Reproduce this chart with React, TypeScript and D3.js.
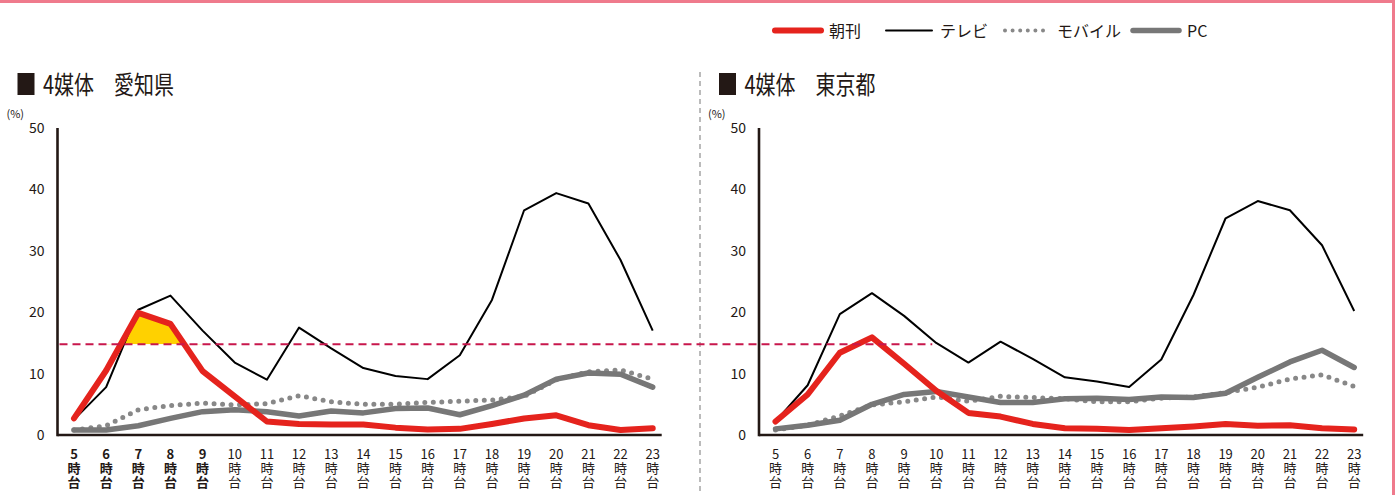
import React from "react";
import * as d3 from "d3";

const hours = [5, 6, 7, 8, 9, 10, 11, 12, 13, 14, 15, 16, 17, 18, 19, 20, 21, 22, 23];
const yTicks = [0, 10, 20, 30, 40, 50];
const threshold = 14.8;

// 愛知県
const aichiChokan = [2.7, 10.5, 19.9, 18.1, 10.4, 6.3, 2.2, 1.8, 1.7, 1.7, 1.2, 0.9, 1.0, 1.8, 2.7, 3.2, 1.6, 0.8, 1.1];
const aichiTV = [2.5, 7.8, 20.4, 22.7, 17.0, 11.8, 9.0, 17.5, 14.1, 10.9, 9.6, 9.1, 13.0, 22.0, 36.6, 39.4, 37.7, 28.5, 17.0];
const aichiMobile = [0.8, 1.5, 4.1, 4.8, 5.2, 4.9, 5.1, 6.4, 5.4, 5.0, 5.0, 5.3, 5.5, 5.7, 6.3, 9.0, 10.3, 10.6, 9.1];
const aichiPC = [0.8, 0.8, 1.5, 2.7, 3.8, 4.1, 3.8, 3.1, 3.9, 3.6, 4.3, 4.4, 3.3, 4.8, 6.5, 9.1, 10.1, 9.9, 7.8];

// 東京都
const tokyoChokan = [2.2, 6.6, 13.4, 15.9, 11.6, 7.2, 3.6, 3.0, 1.8, 1.1, 1.0, 0.8, 1.1, 1.4, 1.8, 1.5, 1.6, 1.1, 0.9];
const tokyoTV = [2.2, 8.1, 19.7, 23.1, 19.4, 15.0, 11.8, 15.2, 12.4, 9.4, 8.7, 7.8, 12.3, 22.8, 35.3, 38.1, 36.6, 30.9, 20.2];
const tokyoMobile = [0.8, 1.6, 3.1, 4.9, 5.4, 6.2, 5.5, 6.3, 6.1, 5.9, 5.4, 5.4, 6.0, 6.2, 6.9, 7.8, 9.1, 9.8, 7.9];
const tokyoPC = [1.0, 1.6, 2.4, 5.0, 6.6, 7.1, 6.2, 5.3, 5.3, 5.9, 6.0, 5.8, 6.2, 6.1, 6.8, 9.4, 11.9, 13.8, 11.0];

const legendItems = ["朝刊", "テレビ", "モバイル", "PC"];

const FONT = "'Noto Sans CJK JP', 'Noto Sans', sans-serif";
const RED = "#e5231d";
const BLACK = "#000";
const GRAY = "#777";
const DOT = "#888";
const AXIS = "#231815";

const styles: Record<string, any> = {
  朝刊: { stroke: RED, width: 6, dash: undefined, cap: "round" },
  テレビ: { stroke: BLACK, width: 2, dash: undefined, cap: "butt" },
  モバイル: { stroke: DOT, width: 5, dash: "0 8.5", cap: "round" },
  PC: { stroke: GRAY, width: 5.5, dash: undefined, cap: "round" },
};

const yScale = d3.scaleLinear().domain([0, 50]).range([435, 128]);

function Panel({ axisX, title, series, bold, fill }: any) {
  const x0 = axisX + 16.5;
  const xScale = d3.scaleLinear().domain([5, 23]).range([x0, x0 + 18 * 32.15]);
  const line = d3.line<number>().x((_, i) => xScale(hours[i])).y((v) => yScale(v));
  const order = ["モバイル", "PC", "テレビ", "朝刊"];
  const tY = yScale(threshold);
  const area = d3
    .area<number>()
    .x((_, i) => xScale(hours[i]))
    .y0(tY)
    .y1((v) => yScale(v));
  const clipId = "clip-" + Math.round(axisX);
  return (
    <g>
      <rect x={axisX - 40} y={73} width={17} height={22} fill={AXIS} />
      <text
        x={axisX - 14.5}
        y={94}
        fontSize={25}
        fontFamily={FONT}
        fill="#231815"
        textLength={131}
        lengthAdjust="spacingAndGlyphs"
      >
        {title}
      </text>
      <text x={axisX - 51} y={118} fontSize={11} fontFamily={FONT} fill="#231815">
        (%)
      </text>
      {yTicks.map((t) => (
        <text
          key={t}
          x={axisX - 13}
          y={yScale(t) + 5}
          fontSize={14}
          textAnchor="end"
          fontFamily={FONT}
          fill="#231815"
        >
          {t}
        </text>
      ))}
      {hours.map((h) =>
        [String(h), "時", "台"].map((s, j) => (
          <text
            key={h + "-" + j}
            x={xScale(h)}
            y={459 + j * 14}
            textAnchor="middle"
            fontSize={13}
            fontFamily={FONT}
            fontWeight={bold && h <= 9 ? 700 : 400}
            fill="#231815"
          >
            {s}
          </text>
        ))
      )}
      {fill && (
        <>
          <defs>
            <clipPath id={clipId}>
              <rect x={xScale(6)} y={0} width={xScale(9) - xScale(6)} height={tY} />
            </clipPath>
          </defs>
          <path d={area(series["朝刊"]) || ""} fill="#ffd100" clipPath={`url(#${clipId})`} />
        </>
      )}
      {order.map((k) => {
        const s = styles[k];
        return (
          <path
            key={k}
            d={line(series[k]) || ""}
            fill="none"
            stroke={s.stroke}
            strokeWidth={s.width}
            strokeDasharray={s.dash}
            strokeLinecap={s.cap}
            strokeLinejoin="round"
          />
        );
      })}
      <line x1={axisX} x2={axisX} y1={yScale(50)} y2={yScale(0) + 1.3} stroke={AXIS} strokeWidth={2.6} />
      <line x1={axisX} x2={xScale(23) + 9} y1={yScale(0)} y2={yScale(0)} stroke={AXIS} strokeWidth={2.6} />
    </g>
  );
}

export default function App() {
  const leftAxis = 57.5;
  const rightAxis = 759;
  const rightX = d3.scaleLinear().domain([5, 23]).range([rightAxis + 16.5, rightAxis + 16.5 + 18 * 32.15]);
  const legendX = [775, 886, 1003, 1133];
  return (
    <svg width={1395} height={495} style={{ position: "absolute", left: 0, top: 0, background: "#fff" }}>
      <line x1={0} x2={1395} y1={1.5} y2={1.5} stroke="#ef7a8c" strokeWidth={3} />
      <line x1={1393.5} x2={1393.5} y1={0} y2={495} stroke="#ef7a8c" strokeWidth={3} />
      <line x1={700} x2={700} y1={72} y2={495} stroke="#bbb" strokeWidth={2} strokeDasharray="5 4" />

      {legendItems.map((k, i) => {
        const s = styles[k];
        const lx = legendX[i];
        return (
          <g key={k}>
            <line
              x1={lx + (k === "モバイル" ? 2 : 0)}
              x2={lx + (k === "モバイル" ? 40 : 46)}
              y1={30.5}
              y2={30.5}
              stroke={s.stroke}
              strokeWidth={k === "モバイル" ? 4 : s.width}
              strokeDasharray={k === "モバイル" ? "0 7.6" : undefined}
              strokeLinecap="round"
            />
            <text x={lx + 54} y={36.5} fontSize={16} fontFamily={FONT} fill="#231815">
              {k}
            </text>
          </g>
        );
      })}

      <Panel
        axisX={leftAxis}
        title="4媒体　愛知県"
        bold={true}
        fill={true}
        series={{ 朝刊: aichiChokan, テレビ: aichiTV, モバイル: aichiMobile, PC: aichiPC }}
      />
      <Panel
        axisX={rightAxis}
        title="4媒体　東京都"
        bold={false}
        fill={false}
        series={{ 朝刊: tokyoChokan, テレビ: tokyoTV, モバイル: tokyoMobile, PC: tokyoPC }}
      />
      <line
        x1={leftAxis + 2}
        x2={rightX(10) - 4}
        y1={yScale(threshold)}
        y2={yScale(threshold)}
        stroke="#c8174c"
        strokeWidth={2}
        strokeDasharray="8 5"
      />
    </svg>
  );
}
